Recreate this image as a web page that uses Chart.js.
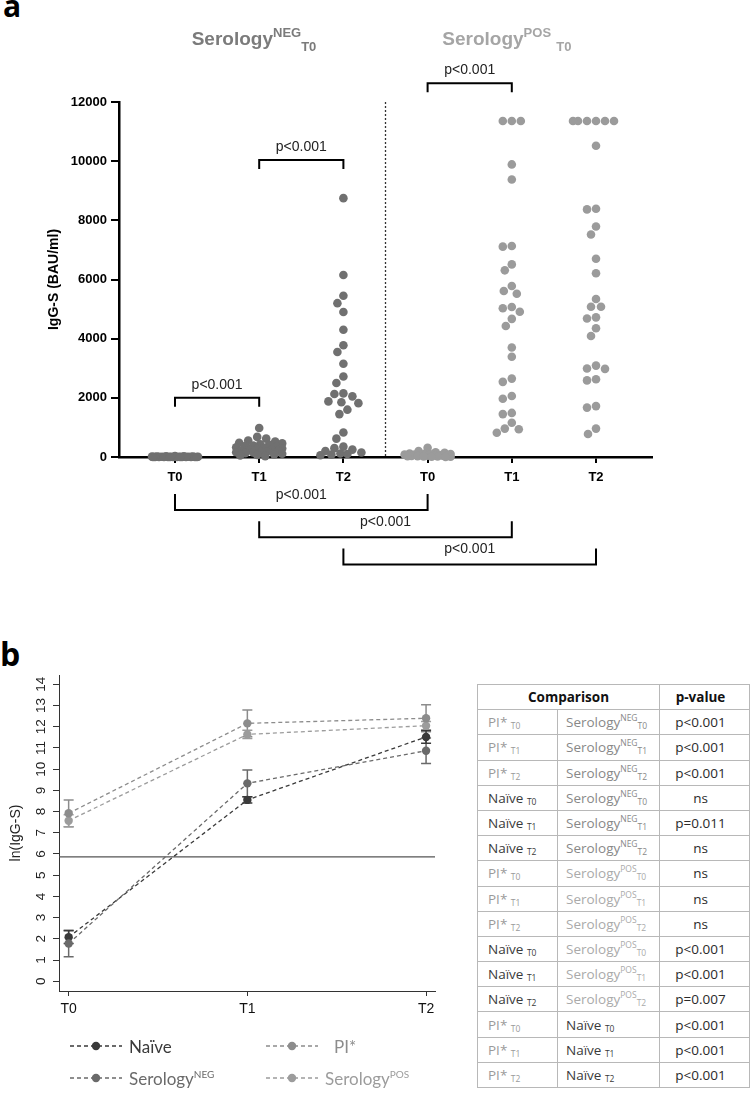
<!DOCTYPE html>
<html>
<head>
<meta charset="utf-8">
<script src="https://cdn.jsdelivr.net/npm/chart.js@4.4.1/dist/chart.umd.min.js"></script>
<style>
  body { margin: 0; width: 750px; height: 1108px; background: #fff; position: relative; overflow: hidden;
         font-family: "Liberation Sans", Arial, sans-serif; }
  .abs { position: absolute; }
  .tag { font-family: "Open Sans", sans-serif; font-weight: 700; color: #000; line-height: 1; }
  .head { font-weight: 700; font-size: 19px; line-height: 19px; white-space: nowrap; }
  .head sup, .head sub { font-size: 13px; vertical-align: baseline; position: relative; }
  .head sup { top: -8px; }
  .head sub { top: 6px; }
  .leg { display: flex; align-items: center; height: 22px; font-family: Lato, sans-serif; font-size: 17px; white-space: nowrap; }
  .leg svg { margin-right: 7px; }
  .leg sup { font-size: 10px; vertical-align: baseline; position: relative; top: -7px; }
  table { position: absolute; left: 477px; top: 684px; width: 272px; border-collapse: collapse; table-layout: fixed;
          font-family: "Open Sans", sans-serif; font-size: 13.5px; font-weight: 400; }
  td, th { border: 1px solid #b8b8b8; height: 24.2px; padding: 0; white-space: nowrap; }
  td { font-weight: 400; }
  th { font-weight: 700; color: #111; }
  td.c1 { padding-left: 10px; }
  td.c2 { padding-left: 8px; }
  td.c3 { text-align: center; color: #2a2a2a; padding-right: 8px; }
  th.c3 { text-align: center; padding-right: 8px; }
  td sup, td sub { font-size: 8.5px; vertical-align: baseline; position: relative; }
  td sup { top: -6px; }
  td sub { top: 2px; }
</style>
</head>
<body>
<div class="abs tag" style="left:3px;top:-9px;font-size:30px;">a</div>
<div class="abs tag" style="left:0px;top:638px;font-size:32px;">b</div>

<canvas id="panelA" class="abs" width="750" height="620" style="left:0;top:0;width:750px;height:620px;"></canvas>
<div id="headNeg" class="abs head" style="top:29px;color:#7b7b7b;">Serology<sup>NEG</sup><sub>T0</sub></div>
<div id="headPos" class="abs head" style="top:29px;color:#a5a5a5;">Serology<sup>POS</sup> <sub>T0</sub></div>

<canvas id="panelB" class="abs" width="470" height="400" style="left:0;top:640px;width:470px;height:400px;"></canvas>
<div id="legendB"></div>
<table id="pTable"></table>

<script>
/* ======== PANEL A DATA (IgG-S, BAU/ml) ======== */
const xLabelsA = ["T0", "T1", "T2", "T0", "T1", "T2"];
const yTicksA = [0, 2000, 4000, 6000, 8000, 10000, 12000];
const negT0 = [30, 25, 20, 18, 15, 12, 10, 10, 8, 8, 6, 5, 5, 4, 3, 3, 2, 2, 1, 1, 1, 0, 0, 0, 0];
const negT1 = [980, 680, 620, 560, 520, 480, 460, 430, 410, 390, 370, 350, 330, 310, 290, 270, 250, 240, 220, 200,
               190, 170, 160, 150, 130, 110, 90, 70, 50, 30];
const negT2 = [8750, 6150, 5450, 5200, 4900, 4300, 3780, 3550, 3150, 2720, 2500, 2150, 2130, 2050, 1880, 1850, 1820,
               1600, 1450, 830, 620, 350, 300, 250, 200, 150, 120, 100, 80, 60];
const posT0 = [310, 200, 160, 140, 120, 110, 100, 90, 85, 80, 70, 60, 55, 50, 45, 40, 35, 30, 25, 20, 15, 10, 8, 5];
const posT1 = [11360, 11360, 11360, 9890, 9380, 7130, 7110, 6510, 6310, 5780, 5610, 5520, 5070, 5030, 4910, 4670,
               4430, 3700, 3390, 2650, 2540, 2060, 1970, 1490, 1450, 1160, 960, 940, 820];
const posT2 = [11360, 11360, 11360, 11360, 11360, 11360, 10520, 8390, 8370, 7790, 7520, 6700, 6210, 5340, 5080, 5080,
               4720, 4680, 4350, 4090, 3090, 2990, 2980, 2630, 2590, 1720, 1670, 960, 780];
const groupsA = [negT0, negT1, negT2, posT0, posT1, posT2];
const groupSerology = ["NEG", "NEG", "NEG", "POS", "POS", "POS"];

// p-value brackets: above the dots (at a value) and below the axis (row)
const topBrackets = [
    { from: 0, to: 1, at: 2004, label: "p<0.001" },
    { from: 1, to: 2, at: 10040, label: "p<0.001" },
    { from: 3, to: 4, at: 12630, label: "p<0.001" }
];
const bottomBrackets = [
    { from: 0, to: 3, label: "p<0.001" },
    { from: 1, to: 4, label: "p<0.001" },
    { from: 2, to: 5, label: "p<0.001" }
];

/* ======== PANEL B DATA (ln IgG-S) ======== */
const xLabelsB = ["T0", "T1", "T2"];
const yTicksB = [0, 1, 2, 3, 4, 5, 6, 7, 8, 9, 10, 11, 12, 13, 14];
const seriesNames = ["Naïve", "PI*", "Serology", "Serology"];
const seriesSup = ["", "", "NEG", "POS"];
const naiveMean = [2.08, 8.55, 11.52];
const naiveErr = [0.3, 0.15, 0.3];
const piMean = [7.92, 12.16, 12.40];
const piErr = [0.63, 0.63, 0.64];
const negMean = [1.78, 9.33, 10.87];
const negErr = [0.62, 0.63, 0.6];
const posMean = [7.57, 11.64, 12.05];
const posErr = [0.28, 0.2, 0.2];
const thresholdB = 5.86;

/* ======== TABLE DATA ======== */
const rowLeft = ["PI*", "PI*", "PI*", "Naïve", "Naïve", "Naïve", "PI*", "PI*", "PI*", "Naïve", "Naïve", "Naïve", "PI*", "PI*", "PI*"];
const rowTime = ["T0", "T1", "T2", "T0", "T1", "T2", "T0", "T1", "T2", "T0", "T1", "T2", "T0", "T1", "T2"];
const rowRight = ["NEG", "NEG", "NEG", "NEG", "NEG", "NEG", "POS", "POS", "POS", "POS", "POS", "POS", "Naïve", "Naïve", "Naïve"];
const pValues = ["p<0.001", "p<0.001", "p<0.001", "ns", "p=0.011", "ns", "ns", "ns", "ns",
                 "p<0.001", "p<0.001", "p=0.007", "p<0.001", "p<0.001", "p<0.001"];

/* ======== PANEL A CHART ======== */
const seroColor = { NEG: "#707070", POS: "#9b9b9b" };

const bracketPlugin = {
    id: "brackets",
    afterDraw(chart) {
        const ctx = chart.ctx, xs = chart.scales.x, ys = chart.scales.y;
        ctx.save();
        // dotted separator between the two serology groups
        ctx.strokeStyle = "#333";
        ctx.lineWidth = 1.3;
        ctx.setLineDash([2, 2]);
        const sx = xs.getPixelForValue(2.5);
        ctx.beginPath();
        ctx.moveTo(sx, ys.getPixelForValue(12000));
        ctx.lineTo(sx, ys.getPixelForValue(0));
        ctx.stroke();
        ctx.setLineDash([]);

        ctx.strokeStyle = "#000";
        ctx.lineWidth = 2;
        ctx.fillStyle = "#222";
        ctx.font = "14px 'Liberation Sans', Arial, sans-serif";
        ctx.textAlign = "center";
        ctx.textBaseline = "middle";
        topBrackets.forEach(b => {
            const x1 = xs.getPixelForValue(b.from), x2 = xs.getPixelForValue(b.to);
            const y = ys.getPixelForValue(b.at);
            ctx.beginPath();
            ctx.moveTo(x1, y + 9); ctx.lineTo(x1, y); ctx.lineTo(x2, y); ctx.lineTo(x2, y + 9);
            ctx.stroke();
            ctx.fillText(b.label, (x1 + x2) / 2, y - 13);
        });
        const base = ys.getPixelForValue(0);
        bottomBrackets.forEach((b, i) => {
            const x1 = xs.getPixelForValue(b.from), x2 = xs.getPixelForValue(b.to);
            const top = base + 37 + i * 27.3, y = top + 16;
            ctx.beginPath();
            ctx.moveTo(x1, top); ctx.lineTo(x1, y); ctx.lineTo(x2, y); ctx.lineTo(x2, top);
            ctx.stroke();
            ctx.fillText(b.label, (x1 + x2) / 2, top + 1);
        });
        ctx.restore();
    }
};

const chartA = new Chart(document.getElementById("panelA").getContext("2d"), {
    type: "scatter",
    data: {
        datasets: groupsA.map((vals, g) => ({
            data: vals.map(v => ({ x: g, y: v })),
            pointRadius: 4.3,
            pointHoverRadius: 4.3,
            pointBorderWidth: 0,
            pointBackgroundColor: seroColor[groupSerology[g]],
            borderColor: seroColor[groupSerology[g]],
            showLine: false,
            clip: false
        }))
    },
    options: {
        responsive: false,
        animation: false,
        layout: { padding: { left: 44, right: 98, top: 102, bottom: 123 } },
        plugins: { legend: { display: false }, tooltip: { enabled: false } },
        scales: {
            x: {
                type: "linear",
                min: -0.665,
                max: 5.665,
                afterBuildTicks: s => { s.ticks = xLabelsA.map((_, i) => ({ value: i })); },
                afterFit: s => { s.height = 40; },
                ticks: {
                    callback: v => xLabelsA[v],
                    color: "#000",
                    padding: 7,
                    maxRotation: 0,
                    font: { family: "'Liberation Sans', Arial, sans-serif", size: 13, weight: "bold" }
                },
                grid: { drawOnChartArea: false, drawTicks: true, tickLength: 6, color: "#000", lineWidth: 2 },
                border: { display: true, color: "#000", width: 2.5 }
            },
            y: {
                min: 0,
                max: 12000,
                afterBuildTicks: s => { s.ticks = yTicksA.map(v => ({ value: v })); },
                afterFit: s => { s.width = 75; },
                ticks: {
                    callback: v => String(v),
                    color: "#000",
                    padding: 4,
                    font: { family: "'Liberation Sans', Arial, sans-serif", size: 13, weight: "bold" }
                },
                grid: { drawOnChartArea: false, drawTicks: true, tickLength: 8, color: "#000", lineWidth: 2 },
                border: { display: true, color: "#000", width: 2.5 },
                title: {
                    display: true,
                    text: "IgG-S (BAU/ml)",
                    color: "#000",
                    padding: { top: 2, bottom: 0 },
                    font: { family: "'Liberation Sans', Arial, sans-serif", size: 14, weight: "bold" }
                }
            }
        }
    },
    plugins: [bracketPlugin]
});

/* spread the dots of each column sideways so they do not overlap (column scatter) */
function swarmLayout(chart) {
    const xs = chart.scales.x, ys = chart.scales.y;
    const unit = xs.getPixelForValue(1) - xs.getPixelForValue(0);
    const GAP = 9, MAXOFF = 23;
    chart.data.datasets.forEach((ds, g) => {
        const placed = [];
        const vals = groupsA[g].slice().sort((a, b) => b - a);
        ds.data = vals.map(v => {
            const py = ys.getPixelForValue(v);
            let best = 0, bestScore = -1, done = false;
            for (let k = 0; k <= MAXOFF && !done; k++) {
                for (const s of (k ? [-1, 1] : [1])) {
                    const off = s * k;
                    let minD = Infinity;
                    placed.forEach(p => { minD = Math.min(minD, Math.hypot(p.x - off, p.y - py)); });
                    if (minD >= GAP) { best = off; done = true; break; }
                    if (minD > bestScore) { bestScore = minD; best = off; }
                }
            }
            placed.push({ x: best, y: py });
            return { x: g + best / unit, y: v };
        });
    });
    chart.update("none");
}
swarmLayout(chartA);

// place the group headers over the middle column of each group
(function placeHeaders() {
    const xs = chartA.scales.x;
    [["headNeg", 1], ["headPos", 4]].forEach(([id, idx]) => {
        const el = document.getElementById(id);
        el.style.left = (xs.getPixelForValue(idx) - 5 - el.offsetWidth / 2) + "px";
    });
})();

/* ======== PANEL B CHART ======== */
const seriesB = [
    { mean: naiveMean, err: naiveErr, color: "#3a3a3a" },
    { mean: piMean, err: piErr, color: "#8c8c8c" },
    { mean: negMean, err: negErr, color: "#6a6a6a" },
    { mean: posMean, err: posErr, color: "#9c9c9c" }
];
const drawOrder = [1, 3, 2, 0];

const errorBarPlugin = {
    id: "errorBars",
    beforeDatasetsDraw(chart) {
        const ctx = chart.ctx, xs = chart.scales.x, ys = chart.scales.y, area = chart.chartArea;
        ctx.save();
        // threshold line
        ctx.strokeStyle = "#555";
        ctx.lineWidth = 1.3;
        ctx.beginPath();
        ctx.moveTo(area.left, ys.getPixelForValue(thresholdB));
        ctx.lineTo(area.right, ys.getPixelForValue(thresholdB));
        ctx.stroke();
        // error bars
        ctx.lineWidth = 1.5;
        drawOrder.forEach(si => {
            const s = seriesB[si];
            ctx.strokeStyle = s.color;
            s.mean.forEach((m, i) => {
                const x = xs.getPixelForValue(i);
                const yt = ys.getPixelForValue(m + s.err[i]), yb = ys.getPixelForValue(m - s.err[i]);
                ctx.beginPath();
                ctx.moveTo(x, yt); ctx.lineTo(x, yb);
                ctx.moveTo(x - 5, yt); ctx.lineTo(x + 5, yt);
                ctx.moveTo(x - 5, yb); ctx.lineTo(x + 5, yb);
                ctx.stroke();
            });
        });
        ctx.restore();
    },
    afterDraw(chart) {
        // y tick labels written along the axis, as in R
        const ctx = chart.ctx, ys = chart.scales.y;
        ctx.save();
        ctx.fillStyle = "#222";
        ctx.font = "13.5px 'Liberation Sans', Arial, sans-serif";
        ctx.textAlign = "center";
        ctx.textBaseline = "middle";
        ys.ticks.forEach(t => {
            ctx.save();
            ctx.translate(chart.chartArea.left - 17.5, ys.getPixelForValue(t.value));
            ctx.rotate(-Math.PI / 2);
            ctx.fillText(String(t.value), 0, 0);
            ctx.restore();
        });
        ctx.restore();
    }
};

new Chart(document.getElementById("panelB").getContext("2d"), {
    type: "scatter",
    data: {
        datasets: drawOrder.map(si => ({
            data: seriesB[si].mean.map((v, i) => ({ x: i, y: v })),
            showLine: true,
            borderColor: seriesB[si].color,
            borderWidth: 1.3,
            borderDash: [4, 3],
            pointRadius: 4.2,
            pointHoverRadius: 4.2,
            pointBorderWidth: 0,
            pointBackgroundColor: seriesB[si].color,
            clip: false
        }))
    },
    options: {
        responsive: false,
        animation: false,
        layout: { padding: { left: 8, right: 35, top: 35, bottom: 0 } },
        plugins: { legend: { display: false }, tooltip: { enabled: false } },
        scales: {
            x: {
                type: "linear",
                min: -0.054,
                max: 2.05,
                afterBuildTicks: s => { s.ticks = xLabelsB.map((_, i) => ({ value: i })); },
                afterFit: s => { s.height = 49; },
                ticks: {
                    callback: v => xLabelsB[v],
                    color: "#111",
                    padding: 5,
                    maxRotation: 0,
                    font: { family: "'Liberation Sans', Arial, sans-serif", size: 14 }
                },
                grid: { drawOnChartArea: false, drawTicks: true, tickLength: 5, color: "#333", lineWidth: 1 },
                border: { display: true, color: "#333", width: 1 }
            },
            y: {
                min: -0.46,
                max: 14.44,
                afterBuildTicks: s => { s.ticks = yTicksB.map(v => ({ value: v })); },
                afterFit: s => { s.width = 51; },
                ticks: { color: "rgba(0,0,0,0)", font: { size: 13 } },
                grid: { drawOnChartArea: false, drawTicks: true, tickLength: 6, color: "#333", lineWidth: 1 },
                border: { display: true, color: "#333", width: 1 },
                title: {
                    display: true,
                    text: "ln(IgG-S)",
                    color: "#222",
                    padding: { top: 0, bottom: 0 },
                    font: { family: "'Liberation Sans', Arial, sans-serif", size: 14 }
                }
            }
        }
    },
    plugins: [errorBarPlugin]
});

/* ======== LEGEND (panel b) ======== */
(function buildLegend() {
    const holder = document.getElementById("legendB");
    const colX = [70, 266];
    const rowY = [1046, 1078];
    seriesB.forEach((s, i) => {
        const div = document.createElement("div");
        div.className = "abs leg";
        div.style.left = colX[i % 2] + "px";
        div.style.top = (rowY[Math.floor(i / 2)] - 11) + "px";
        div.style.color = s.color;
        div.innerHTML =
            '<svg width="52" height="12"><line x1="0" y1="6" x2="52" y2="6" stroke="' + s.color +
            '" stroke-width="1.4" stroke-dasharray="4 3"/><circle cx="26" cy="6" r="4.2" fill="' + s.color + '"/></svg>' +
            (seriesNames[i] === "PI*" ? '<span style="margin-left:9px">' : "<span>") + seriesNames[i] +
            (seriesSup[i] ? "<sup>" + seriesSup[i] + "</sup>" : "") + "</span>";
        holder.appendChild(div);
    });
})();

/* ======== TABLE ======== */
(function buildTable() {
    const tagColor = { "PI*": "#9a9a9a", "Naïve": "#3a3a3a", NEG: "#888", POS: "#aaa" };
    const tbl = document.getElementById("pTable");
    let html = '<colgroup><col style="width:80px"><col style="width:102px"><col style="width:90px"></colgroup>';
    html += '<tr><th colspan="2">Comparison</th><th class="c3">p-value</th></tr>';
    rowLeft.forEach((l, i) => {
        const r = rowRight[i];
        const right = (r === "Naïve")
            ? r + " <sub>" + rowTime[i] + "</sub>"
            : "Serology<sup>" + r + "</sup><sub>" + rowTime[i] + "</sub>";
        html += "<tr>" +
            '<td class="c1" style="color:' + tagColor[l] + '">' + l + " <sub>" + rowTime[i] + "</sub></td>" +
            '<td class="c2" style="color:' + tagColor[r] + '">' + right + "</td>" +
            '<td class="c3">' + pValues[i] + "</td></tr>";
    });
    tbl.innerHTML = html;
})();
</script>
</body>
</html>
